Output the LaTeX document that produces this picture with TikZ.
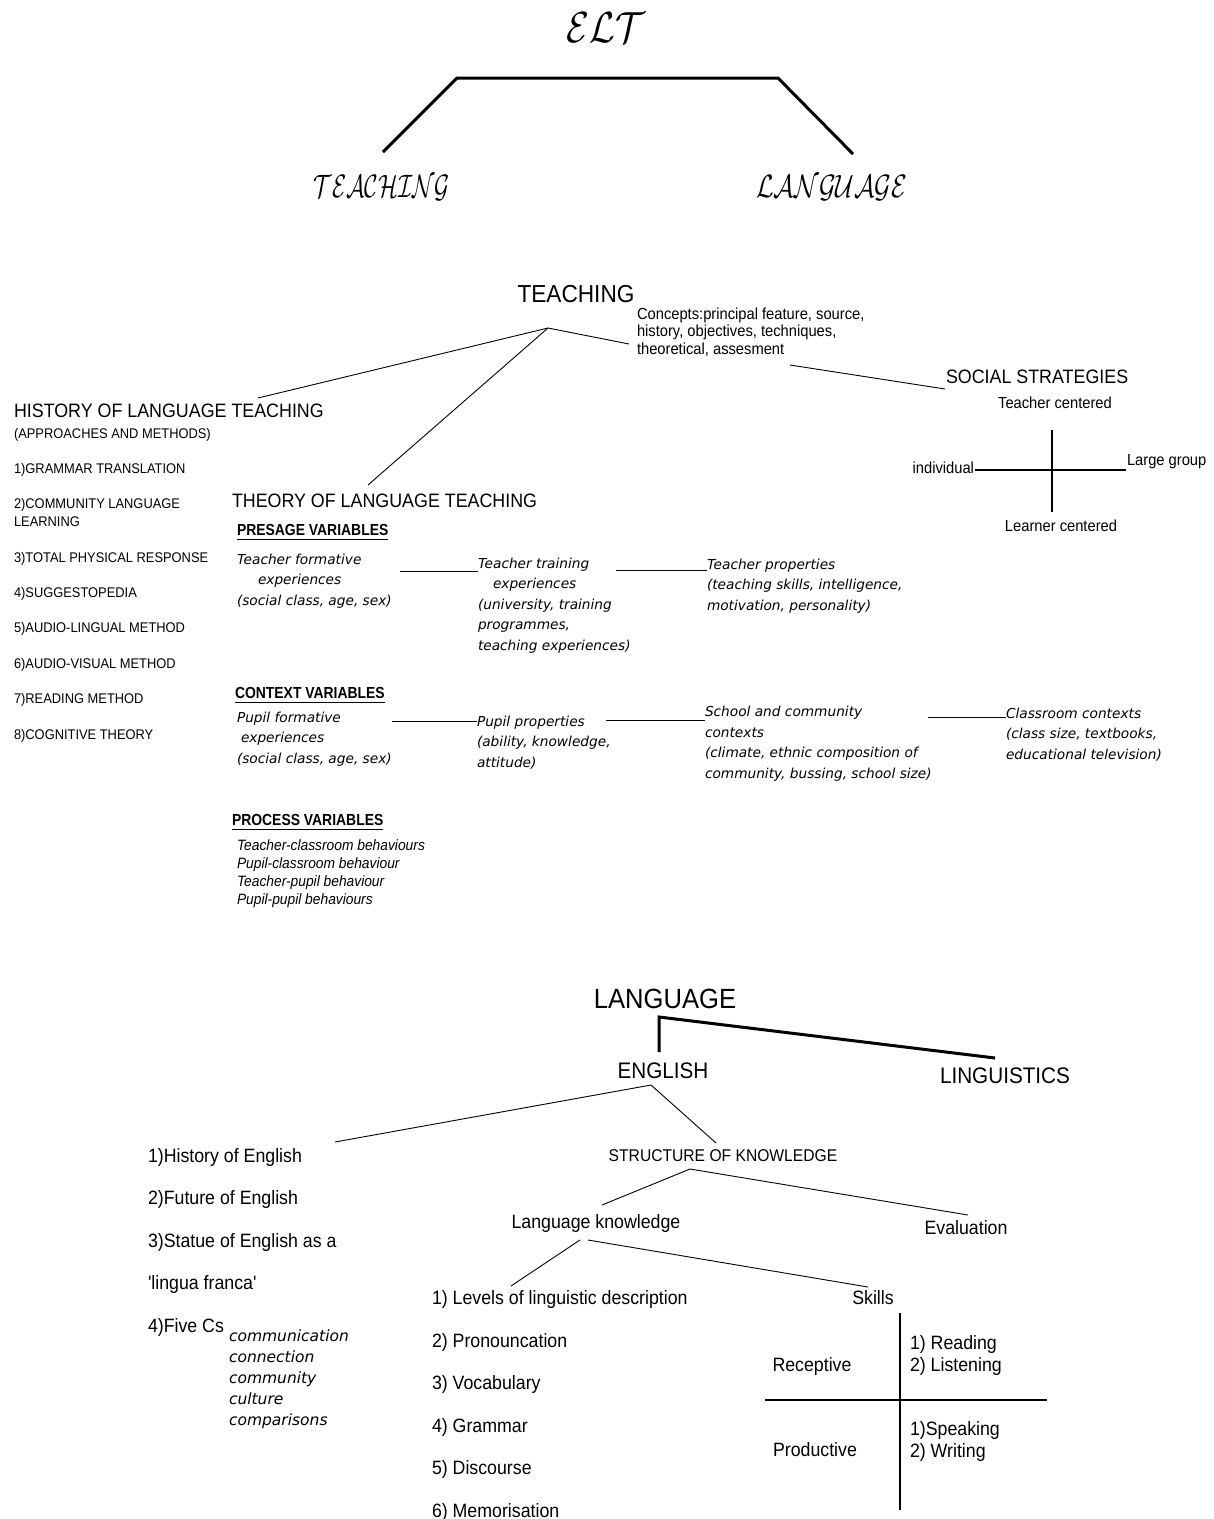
\documentclass[tikz,border=0pt]{standalone}
\usepackage{fontspec}
\usepackage{graphicx}
\usetikzlibrary{calc}
\newfontfamily\hvf{Liberation Sans}[FakeStretch=0.92]
\newfontfamily\hvn{Liberation Sans}[FakeStretch=0.87]
\newfontfamily\dvf{DejaVu Sans}
\begin{document}
\begin{tikzpicture}[x=1pt,y=-1pt,
  every node/.style={inner sep=0pt,outer sep=0pt},
  head/.style={font=\hvf\fontsize{19.4}{22}\selectfont},
  small/.style={font=\hvf\fontsize{16}{17.5}\selectfont,align=left},
  hist/.style={font=\hvf\fontsize{14}{18}\selectfont,align=left},
  ital/.style={font=\dvf\itshape\fontsize{13.7}{20.4}\selectfont,align=left},
  varhd/.style={font=\hvn\bfseries\fontsize{16}{18}\selectfont},
  proc/.style={font=\hvf\itshape\fontsize{15}{18}\selectfont,align=left},
  big/.style={font=\hvf\fontsize{19.3}{42.5}\selectfont,align=left},
  mid/.style={font=\hvf\fontsize{19.3}{22}\selectfont,align=left},
  fivec/.style={font=\dvf\itshape\fontsize{15.5}{21}\selectfont,align=left},
  lnk/.style={line width=0.9pt},
  heavy/.style={line width=3pt},
  axisln/.style={line width=1.8pt}
]
\fill[white] (0,0) rectangle (1214,1519);
\useasboundingbox (0,0) rectangle (1214,1519);

% ---------- top ----------
\node[anchor=base] (elt) at (606,42) {\scalebox{1.5}[1.75]{\Huge$\mathcal{ELT}$}};
\node[anchor=base] (tt) at (382,197) {\scalebox{0.93}[1.3]{\Huge$\mathcal{TEACHING}$}};
\node[anchor=base] (tl) at (832,197) {\scalebox{1.03}[1.3]{\Huge$\mathcal{LANGUAGE}$}};
\coordinate (t1) at (383,152);
\coordinate (t2) at (457,78);
\coordinate (t3) at (778,78);
\coordinate (t4) at (853,154);
\draw[heavy] (t1) -- (t2) -- (t3) -- (t4);

% ---------- teaching ----------
\node[anchor=base,font=\hvf\fontsize{24.6}{28}\selectfont] (teach) at (576,302) {TEACHING};
\coordinate (tj) at (548,328);
\node[small,anchor=base west] (concepts) at (637,354) {Concepts:principal feature, source,\\history, objectives, techniques,\\theoretical, assesment};
\coordinate (cl) at (629,344);
\coordinate (cr) at (790,365);
\node[head,anchor=base west] (social) at (946,383) {SOCIAL STRATEGIES};
\coordinate (sl) at (945,389);
\node[head,anchor=base west] (hist) at (14,417) {HISTORY OF LANGUAGE TEACHING};
\coordinate (hl) at (258,398);
\node[head,anchor=base west] (theory) at (232,507) {THEORY OF LANGUAGE TEACHING};
\coordinate (thl) at (368,485);
\draw[lnk] (cl) -- (tj) -- (hl);
\draw[lnk] (tj) -- (thl);
\draw[lnk] (cr) -- (sl);

% social strategies cross
\node[small,anchor=base] (tc) at (1055,408) {Teacher centered};
\node[small,anchor=base east] (indiv) at (974,473) {individual};
\node[small,anchor=base west] (lg) at (1127,465) {Large group};
\node[small,anchor=base] (lc) at (1061,531) {Learner centered};
\coordinate (v1) at (1052,430);
\coordinate (v2) at (1052,512);
\coordinate (h1) at (975,470);
\coordinate (h2) at (1126,470);
\draw[axisln] (v1) -- (v2);
\draw[axisln] (h1) -- (h2);

% history list
\node[hist,anchor=base west] (appr) at (14,438) {(APPROACHES AND METHODS)};
\node[hist,anchor=base west] (m1) at (14,473) {1)GRAMMAR TRANSLATION};
\node[hist,anchor=base west] (m2) at (14,526) {2)COMMUNITY LANGUAGE\\LEARNING};
\node[hist,anchor=base west] (m3) at (14,562) {3)TOTAL PHYSICAL RESPONSE};
\node[hist,anchor=base west] (m4) at (14,597) {4)SUGGESTOPEDIA};
\node[hist,anchor=base west] (m5) at (14,632) {5)AUDIO-LINGUAL METHOD};
\node[hist,anchor=base west] (m6) at (14,668) {6)AUDIO-VISUAL METHOD};
\node[hist,anchor=base west] (m7) at (14,703) {7)READING METHOD};
\node[hist,anchor=base west] (m8) at (14,739) {8)COGNITIVE THEORY};

% presage variables
\node[varhd,anchor=base west] (pv) at (237,535) {PRESAGE VARIABLES};
\draw[lnk] ([yshift=-4pt]pv.base west) -- ([yshift=-4pt]pv.base east);
\node[ital,anchor=base west] (tf) at (237,605) {Teacher formative\\\hspace*{21pt}experiences\\(social class, age, sex)};
\node[ital,anchor=base west] (ttr) at (478,650) {Teacher training\\\hspace*{15pt}experiences\\(university, training\\programmes,\\teaching experiences)};
\node[ital,anchor=base west] (tp) at (707,610) {Teacher properties\\(teaching skills, intelligence,\\motivation, personality)};
\coordinate (p1) at (400,571);
\coordinate (p2) at (616,570);
\draw[lnk] (p1) -- (ttr.base west |- p1);
\draw[lnk] (p2) -- (tp.base west |- p2);

% context variables
\node[varhd,anchor=base west] (cv) at (235,698) {CONTEXT VARIABLES};
\draw[lnk] ([yshift=-4pt]cv.base west) -- ([yshift=-4pt]cv.base east);
\node[ital,anchor=base west] (pf) at (237,763) {Pupil formative\\\hspace*{4pt}experiences\\(social class, age, sex)};
\node[ital,anchor=base west] (pp) at (477,767) {Pupil properties\\(ability, knowledge,\\attitude)};
\node[ital,anchor=base west] (sc) at (705,778) {School and community\\contexts\\(climate, ethnic composition of\\community, bussing, school size)};
\node[ital,anchor=base west] (cc) at (1006,759) {Classroom contexts\\(class size, textbooks,\\educational television)};
\coordinate (q1) at (392,721);
\coordinate (q2) at (606,720);
\coordinate (q3) at (928,717);
\draw[lnk] (q1) -- (pp.base west |- q1);
\draw[lnk] (q2) -- (sc.base west |- q2);
\draw[lnk] (q3) -- (cc.base west |- q3);

% process variables
\node[varhd,anchor=base west] (prv) at (232,825) {PROCESS VARIABLES};
\draw[lnk] ([yshift=-4pt]prv.base west) -- ([yshift=-4pt]prv.base east);
\node[proc,anchor=base west] (plist) at (237,904) {Teacher-classroom behaviours\\Pupil-classroom behaviour\\Teacher-pupil behaviour\\Pupil-pupil behaviours};

% ---------- language ----------
\node[anchor=base,font=\hvf\fontsize{27.8}{32}\selectfont] (lang) at (665,1008) {LANGUAGE};
\node[anchor=base,font=\hvf\fontsize{22.5}{26}\selectfont] (eng) at (663,1078) {ENGLISH};
\node[anchor=base,font=\hvf\fontsize{22.5}{26}\selectfont] (ling) at (1005,1083) {LINGUISTICS};
\coordinate (lj) at (659,1017);
\coordinate (le) at (659,1052);
\coordinate (ll) at (995,1058);
\draw[heavy] (le) -- (lj) -- (ll);

\coordinate (ej) at (651,1085);
\node[big,anchor=base west] (elist) at (148,1332) {1)History of English\\2)Future of English\\3)Statue of English as a\\'lingua franca'\\4)Five Cs};
\node[fivec,anchor=base west] (five) at (229,1425) {communication\\connection\\community\\culture\\comparisons};
\node[anchor=base,font=\hvf\fontsize{17}{20}\selectfont] (sok) at (723,1161) {STRUCTURE OF KNOWLEDGE};
\coordinate (el) at (335,1142);
\coordinate (er) at (716,1143);
\draw[lnk] (el) -- (ej) -- (er);

\coordinate (sj) at (690,1169);
\node[mid,anchor=base] (lk) at (596,1228) {Language knowledge};
\node[mid,anchor=base] (ev) at (966,1234) {Evaluation};
\coordinate (sl2) at (602,1205);
\coordinate (sr2) at (968,1215);
\draw[lnk] (sl2) -- (sj) -- (sr2);

\coordinate (kl1) at (580,1240);
\coordinate (kl2) at (511,1286);
\coordinate (kr1) at (588,1240);
\coordinate (kr2) at (868,1287);
\draw[lnk] (kl1) -- (kl2);
\draw[lnk] (kr1) -- (kr2);
\node[mid,anchor=base] (sk) at (873,1304) {Skills};
\node[big,anchor=base west] (klist) at (432,1517) {1) Levels of linguistic description\\2) Pronouncation\\3) Vocabulary\\4) Grammar\\5) Discourse\\6) Memorisation};

% skills cross
\coordinate (sv1) at (900,1313);
\coordinate (sv2) at (900,1510);
\coordinate (sh1) at (765,1400);
\coordinate (sh2) at (1047,1400);
\draw[axisln] (sv1) -- (sv2);
\draw[axisln] (sh1) -- (sh2);
\node[mid,anchor=base] (rec) at (812,1371) {Receptive};
\node[mid,anchor=base] (prod) at (815,1456) {Productive};
\node[font=\hvf\fontsize{19.3}{21.5}\selectfont,align=left,anchor=base west] (rl) at (910,1371) {1) Reading\\2) Listening};
\node[font=\hvf\fontsize{19.3}{21.5}\selectfont,align=left,anchor=base west] (sw) at (910,1457) {1)Speaking\\2) Writing};
\end{tikzpicture}
\end{document}
